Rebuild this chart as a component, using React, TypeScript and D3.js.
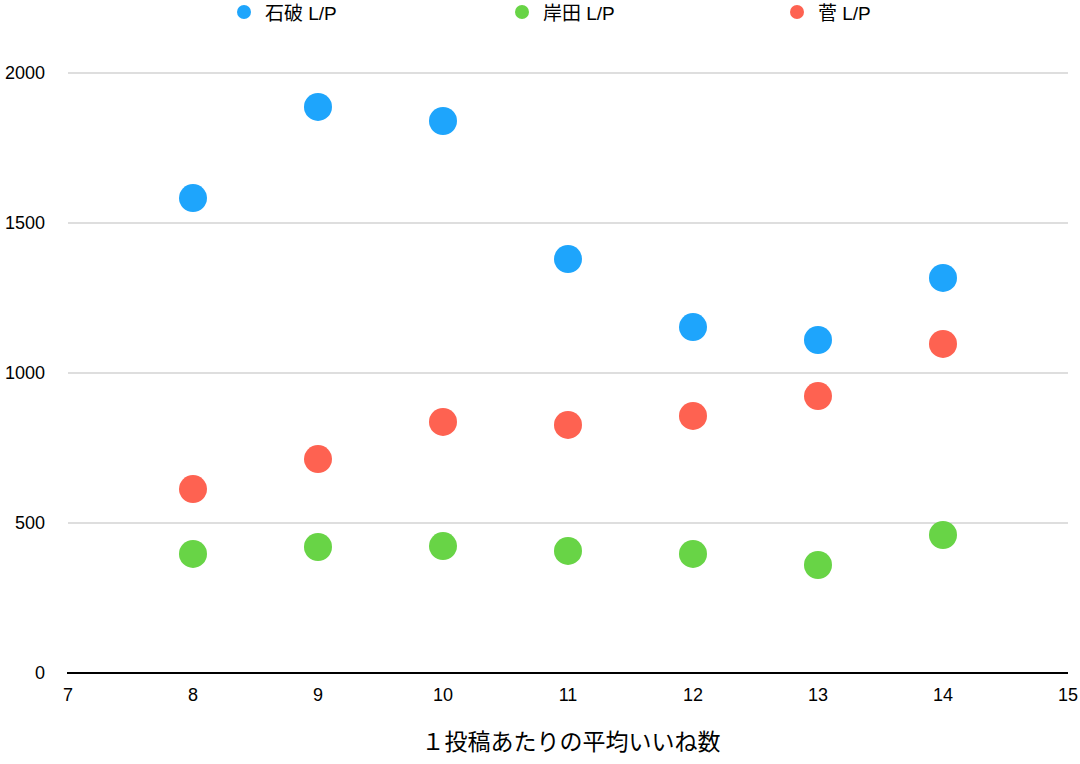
import React from "react";
import * as d3 from "d3";

const xValues = [8, 9, 10, 11, 12, 13, 14];
const ishiba = [1583, 1887, 1840, 1380, 1153, 1110, 1317];
const kishida = [397, 420, 423, 407, 397, 360, 460];
const suga = [613, 713, 837, 827, 857, 923, 1097];
const seriesNames = ["石破 L/P", "岸田 L/P", "菅 L/P"];
const seriesColors = ["#1ea5fc", "#68d446", "#fe6251"];
const xTicks = [7, 8, 9, 10, 11, 12, 13, 14, 15];
const yTicks = [0, 500, 1000, 1500, 2000];
const xTitle = "１投稿あたりの平均いいね数";

const W = 1080;
const H = 764;

export default function App() {
  const x = d3.scaleLinear().domain([7, 15]).range([68, 1068]);
  const y = d3.scaleLinear().domain([0, 2000]).range([673, 73]);
  const series = [ishiba, kishida, suga];
  const legendX = [244, 522, 797];
  const font = "'Liberation Sans', Arial, Helvetica, sans-serif";
  return (
    <svg width={W} height={H} style={{ position: "absolute", left: 0, top: 0, background: "#fff" }}>
      {yTicks.filter((t) => t > 0).map((t) => (
        <line key={t} x1={68} x2={1068} y1={y(t)} y2={y(t)} stroke="#bdbdbd" strokeWidth={1} />
      ))}
      <line x1={67} x2={1068} y1={y(0)} y2={y(0)} stroke="#000" strokeWidth={2} />
      {yTicks.map((t) => (
        <text key={t} x={45} y={y(t)} dy="0.35em" textAnchor="end" fontFamily={font} fontSize={18} fill="#000">
          {t}
        </text>
      ))}
      {xTicks.map((t) => (
        <text key={t} x={x(t)} y={695} dy="0.35em" textAnchor="middle" fontFamily={font} fontSize={18} fill="#000">
          {t}
        </text>
      ))}
      <text x={571} y={742} dy="0.35em" textAnchor="middle" fontFamily="'Noto Sans CJK JP', sans-serif" fontSize={23} fill="#000">
        {xTitle}
      </text>
      {series.map((vals, si) =>
        vals.map((v, i) => (
          <circle key={`${si}-${i}`} cx={x(xValues[i])} cy={y(v)} r={14} fill={seriesColors[si]} />
        ))
      )}
      {seriesNames.map((n, i) => (
        <g key={n}>
          <circle cx={legendX[i]} cy={12} r={7} fill={seriesColors[i]} />
          <text x={legendX[i] + 21} y={13} dy="0.35em" fontFamily={`${font}, 'Noto Sans CJK JP'`} fontSize={19} fill="#000">
            {n}
          </text>
        </g>
      ))}
    </svg>
  );
}
